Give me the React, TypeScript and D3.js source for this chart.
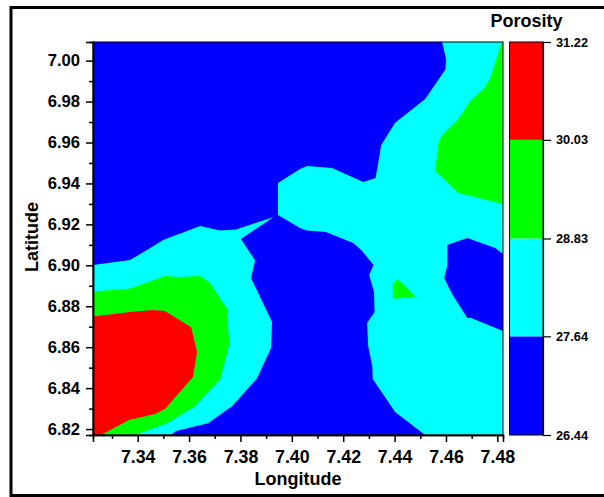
import * as d3 from "d3";
import { useEffect, useRef } from "react";

// contour regions, as [longitude, latitude]
const cyanWest: [number, number][] = [
  [7.3226, 6.9001], [7.337, 6.9026], [7.3436, 6.9075], [7.3499, 6.9124], [7.3643, 6.9192],
  [7.3721, 6.917], [7.3783, 6.9175], [7.3929, 6.9236], [7.3802, 6.9129], [7.383, 6.9075],
  [7.3857, 6.9023], [7.3841, 6.8938], [7.3923, 6.8723], [7.3919, 6.8596], [7.3865, 6.8449],
  [7.3767, 6.8312], [7.3674, 6.8229], [7.3549, 6.819], [7.353, 6.8171], [7.3226, 6.8171],
];
const cyanEast: [number, number][] = [
  [7.4585, 7.0091], [7.4601, 7.0003], [7.4597, 6.9955], [7.4519, 6.9813], [7.4402, 6.9696],
  [7.4348, 6.9588], [7.4326, 6.9427], [7.4278, 6.9407], [7.4157, 6.9476], [7.4059, 6.9485],
  [7.4032, 6.9471], [7.3946, 6.9402], [7.3946, 6.9246], [7.4032, 6.9182], [7.4059, 6.917],
  [7.4133, 6.9163], [7.4239, 6.9109], [7.427, 6.9075], [7.4318, 6.9001], [7.4301, 6.8953],
  [7.432, 6.887], [7.4322, 6.8772], [7.4293, 6.8718], [7.4297, 6.8606], [7.4313, 6.8508],
  [7.4315, 6.8444], [7.4402, 6.8283], [7.4519, 6.8171], [7.4822, 6.8171], [7.4822, 6.8679],
  [7.4698, 6.8742], [7.4683, 6.8742], [7.4624, 6.886], [7.4593, 6.8938], [7.4605, 6.8997],
  [7.4605, 6.9099], [7.4683, 6.9133], [7.4792, 6.9085], [7.4822, 6.9055], [7.4822, 7.0091],
];
const greenWest: [number, number][] = [
  [7.3226, 6.8872], [7.337, 6.8887], [7.3506, 6.8948], [7.3565, 6.8943], [7.3643, 6.8948],
  [7.3682, 6.8913], [7.3748, 6.8786], [7.3756, 6.861], [7.3721, 6.8444], [7.3623, 6.8312],
  [7.3514, 6.8229], [7.3389, 6.8171], [7.3226, 6.8171],
];
const greenEast: [number, number][] = [
  [7.4817, 7.0091], [7.4822, 7.0091], [7.4822, 6.93], [7.4648, 6.9353], [7.4558, 6.9461],
  [7.457, 6.9598], [7.4585, 6.9637], [7.4648, 6.9715], [7.4694, 6.9803], [7.4749, 6.9867],
  [7.4772, 6.9915],
];
const greenIsland: [number, number][] = [
  [7.4408, 6.8933], [7.4392, 6.8904], [7.4394, 6.8835], [7.448, 6.8847], [7.4433, 6.8909],
];
const redWest: [number, number][] = [
  [7.3226, 6.875], [7.337, 6.8772], [7.346, 6.8782], [7.3506, 6.8777], [7.3608, 6.8698],
  [7.3631, 6.8576], [7.3615, 6.8454], [7.3506, 6.8298], [7.3467, 6.8273], [7.3366, 6.8244],
  [7.3257, 6.8171], [7.3226, 6.8171],
];

const levels = [26.44, 27.64, 28.83, 30.03, 31.22];
const levelColors = ["#0000ff", "#00ffff", "#00ff00", "#ff0000"];
const xTicks = [7.34, 7.36, 7.38, 7.4, 7.42, 7.44, 7.46, 7.48];
const yTicks = [6.82, 6.84, 6.86, 6.88, 6.9, 6.92, 6.94, 6.96, 6.98, 7.0];

const font = "'Liberation Sans', Arial, sans-serif";

export default function App() {
  const ref = useRef<SVGSVGElement>(null);

  useEffect(() => {
    const svg = d3.select(ref.current);
    svg.selectAll("*").remove();

    const margin = { top: 42, left: 93, bottom: 435, right: 503 };

    const x = d3.scaleLinear().domain([7.3226, 7.4822]).range([margin.left, margin.right]);
    const y = d3.scaleLinear().domain([6.8171, 7.0091]).range([margin.bottom, margin.top]);
    const z = d3.scaleLinear().domain([26.44, 31.22]).range([435, 42]);

    // outer frame, its right side runs off the page
    svg.append("rect")
      .attr("x", 11)
      .attr("y", 7.5)
      .attr("width", 610)
      .attr("height", 488)
      .attr("fill", "white")
      .attr("stroke", "black")
      .attr("stroke-width", 3);

    // filled contours, lowest level first
    svg.append("rect")
      .attr("x", margin.left)
      .attr("y", margin.top)
      .attr("width", margin.right - margin.left)
      .attr("height", margin.bottom - margin.top)
      .attr("fill", levelColors[0]);

    const line = d3.line<[number, number]>().x(d => x(d[0])).y(d => y(d[1]));
    const regions: [[number, number][], string][] = [
      [cyanWest, levelColors[1]],
      [cyanEast, levelColors[1]],
      [greenWest, levelColors[2]],
      [greenEast, levelColors[2]],
      [greenIsland, levelColors[2]],
      [redWest, levelColors[3]],
    ];
    svg.selectAll("path.region")
      .data(regions)
      .join("path")
      .attr("class", "region")
      .attr("d", d => line(d[0]) + "Z")
      .attr("fill", d => d[1]);

    // plot border
    svg.append("rect")
      .attr("x", margin.left)
      .attr("y", margin.top)
      .attr("width", margin.right - margin.left)
      .attr("height", margin.bottom - margin.top)
      .attr("fill", "none")
      .attr("stroke", "black")
      .attr("stroke-width", 1);

    // X axis, minor ticks halfway between the labelled ones
    const xMinor = xTicks.map(d => d - 0.01);
    svg.append("g")
      .attr("transform", `translate(0, ${margin.bottom})`)
      .call(d3.axisBottom(x).tickValues(xMinor).tickSize(4).tickFormat(() => ""));
    svg.append("g")
      .attr("class", "major x")
      .attr("transform", `translate(0, ${margin.bottom})`)
      .call(d3.axisBottom(x).tickValues(xTicks).tickSize(7).tickPadding(8).tickFormat(d3.format(".2f")));

    // Y axis
    const yMinor = yTicks.map(d => d + 0.01).filter(d => d < 7.0);
    svg.append("g")
      .attr("transform", `translate(${margin.left}, 0)`)
      .call(d3.axisLeft(y).tickValues(yMinor).tickSize(4).tickFormat(() => ""));
    svg.append("g")
      .attr("class", "major y")
      .attr("transform", `translate(${margin.left}, 0)`)
      .call(d3.axisLeft(y).tickValues(yTicks).tickSize(7).tickPadding(6).tickFormat(d3.format(".2f")));

    svg.selectAll("g path.domain, g .tick line")
      .attr("stroke", "black")
      .attr("stroke-width", 1.5);
    svg.selectAll("g.major text")
      .attr("font-family", font)
      .attr("font-weight", "bold")
      .attr("fill", "black");
    svg.selectAll("g.x text").attr("font-size", 17.8);
    svg.selectAll("g.y text").attr("font-size", 16.6);

    // colour bar
    const barLeft = 509.5;
    const barRight = 543;
    svg.selectAll("rect.level")
      .data(levelColors)
      .join("rect")
      .attr("class", "level")
      .attr("x", barLeft)
      .attr("width", barRight - barLeft)
      .attr("y", (d, i) => z(levels[i + 1]))
      .attr("height", (d, i) => z(levels[i]) - z(levels[i + 1]))
      .attr("fill", d => d);
    svg.append("rect")
      .attr("x", barLeft)
      .attr("y", z(levels[4]))
      .attr("width", barRight - barLeft)
      .attr("height", z(levels[0]) - z(levels[4]))
      .attr("fill", "none")
      .attr("stroke", "black")
      .attr("stroke-width", 1);

    const barAxis = svg.append("g")
      .attr("transform", `translate(${barRight}, 0)`)
      .call(d3.axisRight(z).tickValues(levels).tickSize(8).tickPadding(5).tickFormat(d3.format(".2f")));
    barAxis.selectAll("path.domain, .tick line")
      .attr("stroke", "black")
      .attr("stroke-width", 1.2);
    barAxis.selectAll("text")
      .attr("font-family", font)
      .attr("font-weight", "bold")
      .attr("font-size", 12.8)
      .attr("fill", "black");

    // titles
    const title = (text: string, tx: number, ty: number, rotate = 0) =>
      svg.append("text")
        .attr("transform", `translate(${tx}, ${ty})rotate(${rotate})`)
        .attr("text-anchor", "middle")
        .attr("font-family", font)
        .attr("font-weight", "bold")
        .attr("font-size", 18)
        .attr("fill", "black")
        .text(text);
    title("Longitude", 298, 484.5);
    title("Latitude", 38, 237, -90);
    title("Porosity", 526.5, 27);
  }, []);

  return (
    <svg
      ref={ref}
      width={604}
      height={497}
      style={{ position: "absolute", left: 0, top: 0, background: "white" }}
    />
  );
}
